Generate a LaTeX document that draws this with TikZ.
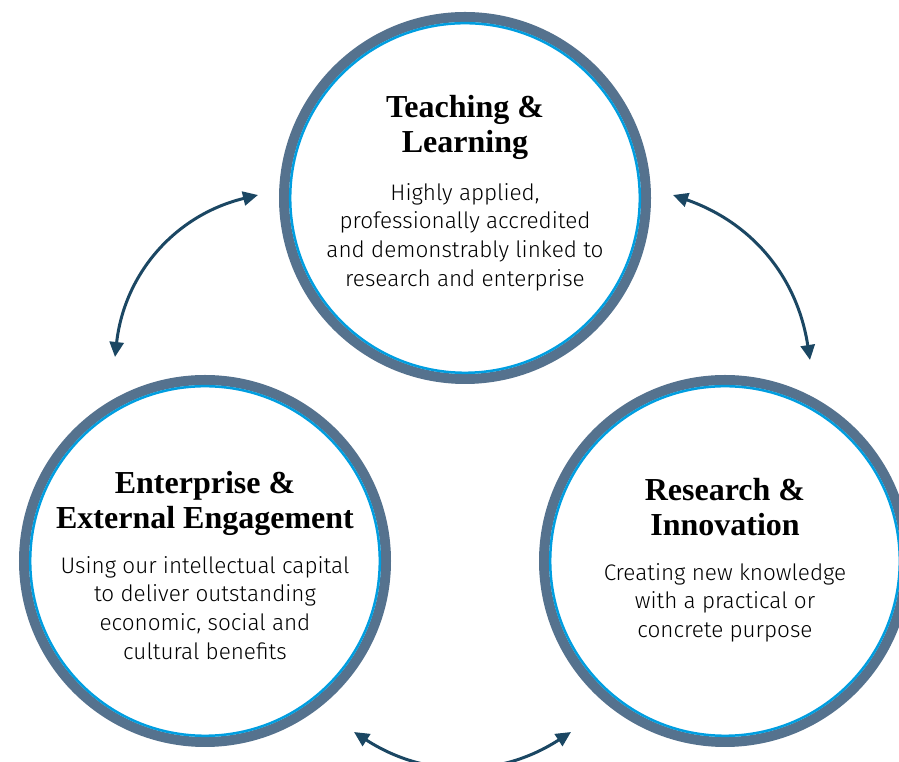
\documentclass[tikz,border=0pt]{standalone}
\usepackage{fontspec}
\setmainfont{Liberation Serif}
\setsansfont{Fira Sans Light}
\usepackage{tikz}
\usetikzlibrary{arrows.meta, positioning, calc}
\definecolor{ringgray}{RGB}{85,114,142}
\definecolor{ringblue}{RGB}{0,158,224}
\definecolor{arrowblue}{RGB}{27,71,99}
\tikzset{
>={Triangle[length=15pt,width=14pt]},
ring/.style={%
    circle,
    minimum size=362pt,
    inner sep=0pt,
    line width=10pt,
    draw=ringgray,
    fill=white
},
inner/.style={draw=ringblue, line width=2.5pt},
title/.style={anchor=north, align=center, inner sep=0pt,
    font=\bfseries\fontsize{32}{35.5}\selectfont},
blurb/.style={anchor=north, align=center, inner sep=0pt,
    font=\sffamily\fontsize{22.5}{28.7}\selectfont},
link/.style={<->, line width=3pt, draw=arrowblue},
}

\begin{document}
\begin{tikzpicture}[x=1pt, y=1pt]
	\useasboundingbox (0,0) rectangle (899,762);
	\clip (0,0) rectangle (899,762);

	\node[ring] at (465,564) (teach) {};
	\node[ring] at (205,201) (enter) {};
	\node[ring] at (725,201) (resea) {};
	\foreach \n in {teach,enter,resea}
		\draw[inner] (\n.center) circle (174.8);

	\node[title] at ($(teach.center)+(0,103)$) (teachtitle) {Teaching \&\\ Learning};
	\node[blurb] at ($(teach.center)+(0,15)$) (teachtext) {Highly applied,\\ professionally accredited\\ and demonstrably linked to\\ research and enterprise};

	\node[title] at ($(enter.center)+(0,90)$) (entertitle) {Enterprise \&\\ External Engagement};
	\node[blurb] at ($(enter.center)+(0,5)$) (entertext) {Using our intellectual capital\\ to deliver outstanding\\ economic, social and\\ cultural benefits};

	\node[title] at ($(resea.center)+(0,83)$) (reseatitle) {Research \&\\ Innovation};
	\node[blurb] at ($(resea.center)+(0,-2)$) (reseatext) {Creating new knowledge\\ with a practical or\\ concrete purpose};

	\coordinate (tl1) at (115,405);
	\coordinate (tl2) at (258,567);
	\coordinate (tr1) at (673,567);
	\coordinate (tr2) at (810,402);
	\coordinate (bl) at (354,30);
	\coordinate (br) at (571,30);

	\draw[link] (tl1) to[bend left=35] (tl2);
	\draw[link] (tr1) to[bend left=31] (tr2);
	\draw[link] (bl) to[bend right=33] (br);
\end{tikzpicture}
\end{document}
